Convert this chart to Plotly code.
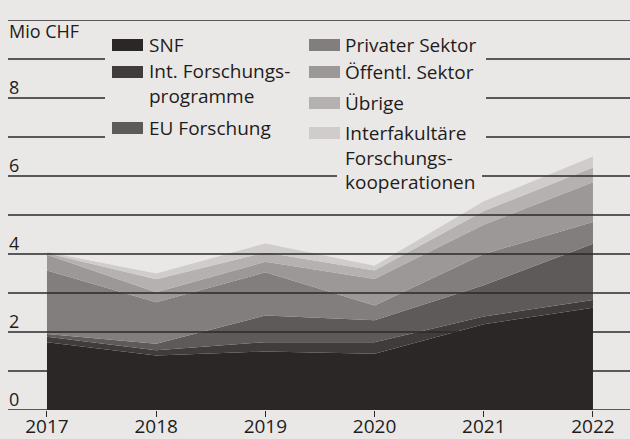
import plotly.graph_objects as go

years = [2017, 2018, 2019, 2020, 2021, 2022]

# Mio CHF per source (stacked, bottom to top)
snf = [1.74, 1.40, 1.50, 1.44, 2.20, 2.62]
int_forschung = [0.14, 0.13, 0.24, 0.30, 0.20, 0.20]
eu_forschung = [0.07, 0.17, 0.68, 0.56, 0.80, 1.44]
privat = [1.63, 1.06, 1.11, 0.38, 0.80, 0.56]
oeffentlich = [0.40, 0.26, 0.27, 0.68, 0.75, 1.02]
uebrige = [0.04, 0.33, 0.24, 0.22, 0.35, 0.38]
interfak = [0.03, 0.15, 0.23, 0.12, 0.25, 0.28]

series = [
    ("SNF", snf, "#2b2727"),
    ("Int. Forschungs-<br>programme", int_forschung, "#403c3c"),
    ("EU Forschung", eu_forschung, "#5e5a5a"),
    ("Privater Sektor", privat, "#827e7e"),
    ("Öffentl. Sektor", oeffentlich, "#9c9898"),
    ("Übrige", uebrige, "#b5b1b0"),
    ("Interfakultäre<br>Forschungs-<br>kooperationen", interfak, "#d0cccb"),
]

y_ticks = [0, 2, 4, 6, 8]
grid_values = list(range(0, 11))

BG = "#eae8e7"
INK = "#1e1c1c"
FONT = "Open Sans"

W, H = 630, 439
ML, MR, MT, MB = 8, 0, 20, 29


def px_x(p):
    return (p - ML) / (W - ML - MR)


def px_y(p):
    return (H - MB - p) / (H - MT - MB)


fig = go.Figure()
for name, vals, col in series:
    fig.add_trace(go.Scatter(
        x=years, y=vals, name=name, stackgroup="one", mode="lines",
        line=dict(width=0, color=col), fillcolor=col, showlegend=False,
        hoverinfo="skip",
    ))

shapes = []
# gridlines drawn above the areas
for g in grid_values:
    shapes.append(dict(type="line", xref="paper", yref="y", x0=0, x1=1, y0=g, y1=g,
                       line=dict(color="#2a2828", width=1.3), layer="above"))

# gaps in the gridlines behind the legend
shapes.append(dict(type="rect", xref="paper", yref="paper",
                   x0=px_x(105), x1=px_x(486), y0=px_y(150), y1=px_y(27),
                   fillcolor=BG, line=dict(width=0), layer="above"))
shapes.append(dict(type="rect", xref="paper", yref="paper",
                   x0=px_x(337), x1=px_x(482), y0=px_y(198), y1=px_y(150),
                   fillcolor=BG, line=dict(width=0), layer="above"))

annotations = []
# legend, two columns
legend_pos = [
    (112, 45, 147, 45), (112, 72, 147, 84), (112, 128, 147, 128),
    (309, 45, 343, 45), (309, 72, 343, 72), (309, 103, 343, 103), (309, 133, 343, 157),
]
for (name, vals, col), (sx, sy, tx, ty) in zip(series, legend_pos):
    shapes.append(dict(type="rect", xref="paper", yref="paper",
                       x0=px_x(sx), x1=px_x(sx + 31), y0=px_y(sy + 6), y1=px_y(sy - 6),
                       fillcolor=col, line=dict(width=0), layer="above"))
    annotations.append(dict(xref="paper", yref="paper", x=px_x(tx), y=px_y(ty),
                            text=name, showarrow=False, xanchor="left", yanchor="middle",
                            align="left", font=dict(size=19, color=INK, family=FONT)))

# y labels sitting on the gridlines
for t in y_ticks:
    annotations.append(dict(xref="paper", yref="y", x=0, y=t, text=str(t), showarrow=False,
                            xanchor="left", yanchor="bottom", xshift=-1, yshift=-3,
                            font=dict(size=18, color=INK, family=FONT)))
annotations.append(dict(xref="paper", yref="y", x=0, y=10, text="Mio CHF", showarrow=False,
                        xanchor="left", yanchor="top", xshift=-1, yshift=3,
                        font=dict(size=18, color=INK, family=FONT)))

fig.update_layout(
    width=W, height=H,
    margin=dict(l=ML, r=MR, t=MT, b=MB),
    paper_bgcolor=BG, plot_bgcolor=BG,
    font=dict(family=FONT, size=19, color=INK),
    shapes=shapes, annotations=annotations,
    xaxis=dict(range=[2016.643, 2022.339], tickvals=years, showgrid=False,
               zeroline=False, showline=False, ticks="outside", ticklen=6,
               tickwidth=1.3, tickcolor="#2a2828", automargin=False,
               ticklabelstandoff=-7, tickfont=dict(size=19, color=INK)),
    yaxis=dict(range=[0, 10], showgrid=False, zeroline=False, showticklabels=False,
               showline=False, automargin=False),
)

# drop the browser's default body margin so the figure fills the window
fig.write_html("out.html", config={"displayModeBar": False},
               post_script="document.body.style.margin='0';")
